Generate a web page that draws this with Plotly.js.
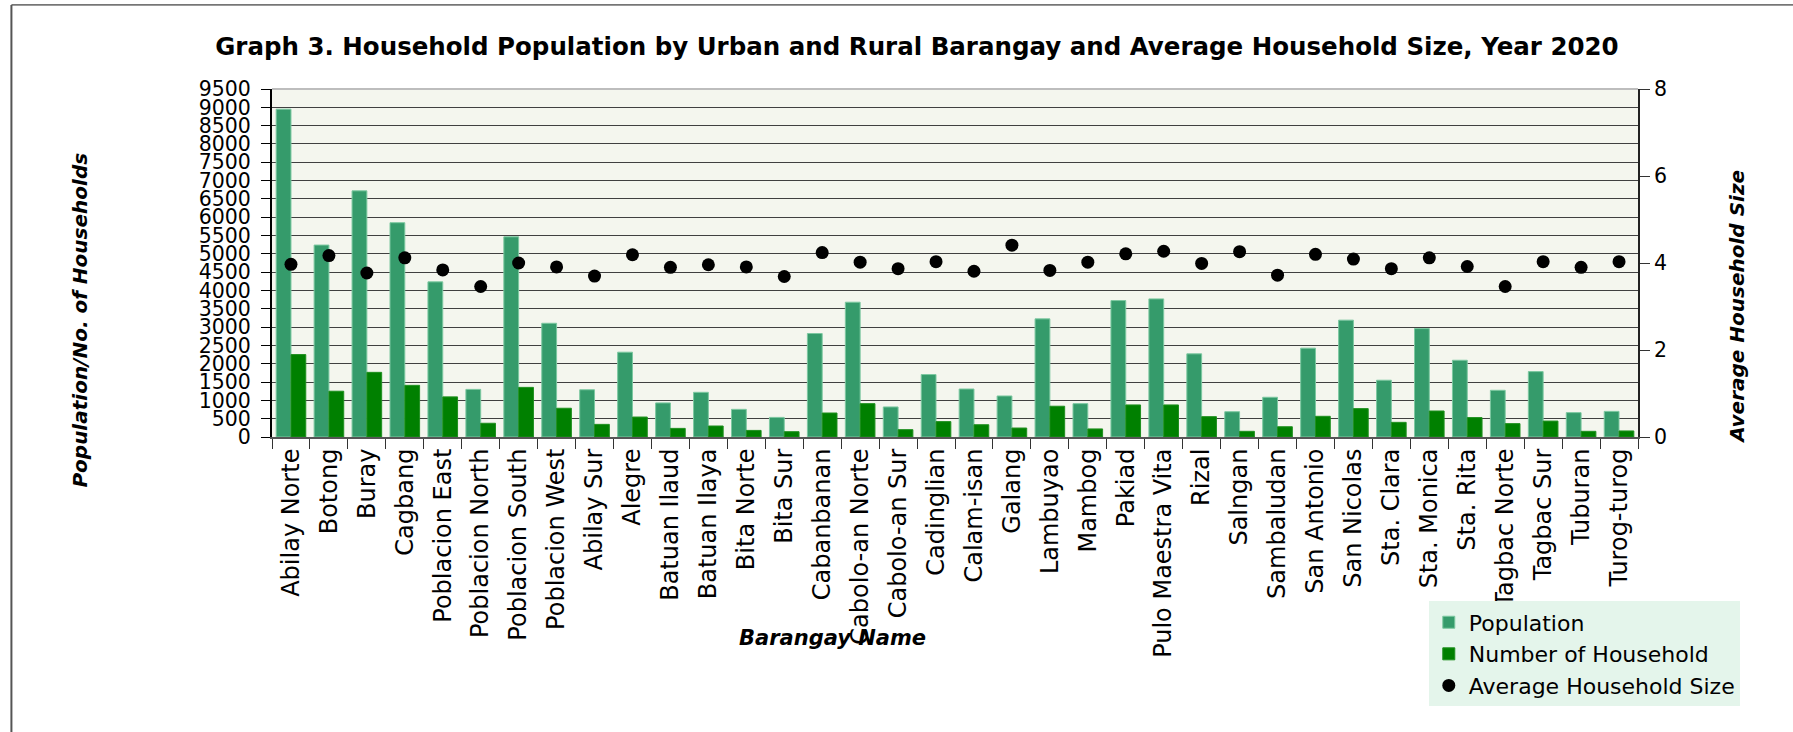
<!DOCTYPE html>
<html>
<head>
<meta charset="utf-8">
<script src="https://cdn.plot.ly/plotly-3.0.1.min.js"></script>
<style>html,body{margin:0;padding:0;background:#fff;}#chart{width:1793px;height:732px;}</style>
</head>
<body>
<div id="chart"></div>
<script>
const barangays = ["Abilay Norte","Botong","Buray","Cagbang","Poblacion East","Poblacion North","Poblacion South","Poblacion West","Abilay Sur","Alegre","Batuan Ilaud","Batuan Ilaya","Bita Norte","Bita Sur","Cabanbanan","Cabolo-an Norte","Cabolo-an Sur","Cadinglian","Calam-isan","Galang","Lambuyao","Mambog","Pakiad","Pulo Maestra Vita","Rizal","Salngan","Sambaludan","San Antonio","San Nicolas","Sta. Clara","Sta. Monica","Sta. Rita","Tagbac Norte","Tagbac Sur","Tuburan","Turog-turog"];
const population = [8950,5240,6720,5850,4235,1300,5465,3105,1290,2315,930,1220,755,535,2825,3680,820,1705,1310,1120,3225,910,3725,3770,2270,690,1085,2425,3190,1550,2960,2095,1275,1785,665,700];
const households = [2250,1250,1765,1410,1095,375,1355,785,345,545,235,300,180,145,655,910,200,420,335,245,840,220,875,875,555,155,280,565,775,400,710,530,365,435,155,165];
const avgSize = [3.97,4.17,3.77,4.12,3.84,3.46,4.00,3.91,3.70,4.19,3.90,3.96,3.91,3.69,4.24,4.02,3.87,4.03,3.81,4.41,3.83,4.02,4.21,4.27,3.99,4.26,3.72,4.20,4.09,3.87,4.12,3.92,3.46,4.03,3.90,4.03];
const leftTicks = [0,500,1000,1500,2000,2500,3000,3500,4000,4500,5000,5500,6000,6500,7000,7500,8000,8500,9000,9500];
const rightTicks = [0,2,4,6,8];

const FONT = "DejaVu Sans";
const traces = [
  {type:"bar", name:"Population", x:barangays, y:population,
   marker:{color:"#359b6b", line:{color:"#7cc8a0", width:1}}},
  {type:"bar", name:"Number of Household", x:barangays, y:households,
   marker:{color:"#008000", line:{color:"#1f8f1f", width:1}}},
  {type:"scatter", mode:"markers", name:"Average Household Size", x:barangays, y:avgSize, yaxis:"y2",
   marker:{color:"#000", size:13}}
];

const W=1366.6, H=347.7, L=271.7, B=436.7;
const px = v => (v - L)/W;
const py = v => (B - v)/H;

const layout = {
  width:1793, height:732,
  margin:{l:272, r:155, t:89, b:295},
  paper_bgcolor:"#ffffff", plot_bgcolor:"#f4f6ee",
  font:{family:FONT, color:"#000"},
  barmode:"group", bargap:0.22, bargroupgap:0,
  showlegend:true,
  title:{text:"Graph 3. Household Population by Urban and Rural Barangay and Average Household Size, Year 2020",
         font:{family:FONT, size:24.5, weight:"bold", color:"#000"}, x:0.5114, xanchor:"center", y:1-46/732, yanchor:"middle"},
  xaxis:{type:"category", range:[-0.5, barangays.length-0.5], autorange:false, tickangle:-90,
         tickfont:{size:24, family:FONT}, ticks:"outside", tickson:"boundaries",
         ticklen:10, tickcolor:"#333", showline:true, linecolor:"#555", linewidth:2, showgrid:false, automargin:false},
  yaxis:{range:[0,9500], tickvals:leftTicks, ticks:"outside", ticklen:9, tickcolor:"#000", showline:true,
         linecolor:"#000", linewidth:2, gridcolor:"#404040", gridwidth:1, zeroline:false, ticklabelstandoff:6,
         tickfont:{size:20.5, family:FONT}, automargin:false},
  yaxis2:{range:[0,8], tickvals:rightTicks, overlaying:"y", side:"right", showgrid:false, zeroline:false,
          ticks:"outside", ticklen:10, tickcolor:"#333", showline:true, linecolor:"#222", linewidth:2,
          tickfont:{size:20.5, family:FONT}, automargin:false},
  legend:{x:px(1429), y:py(601), xanchor:"left", yanchor:"top", bgcolor:"#e4f5eb", borderwidth:0,
          font:{size:22, family:FONT}, traceorder:"normal", tracegroupgap:0},
  annotations:[
    {text:"<b><i>Population/No. of Households</i></b>", xref:"paper", yref:"paper", x:px(80), y:py(320),
     textangle:-90, showarrow:false, font:{size:20, family:FONT}, xanchor:"center", yanchor:"middle"},
    {text:"<b><i>Average Household Size</i></b>", xref:"paper", yref:"paper", x:px(1738), y:py(307),
     textangle:-90, showarrow:false, font:{size:20, family:FONT}, xanchor:"center", yanchor:"middle"},
    {text:"<b><i>Barangay Name</i></b>", xref:"paper", yref:"paper", x:px(832), y:py(638),
     showarrow:false, font:{size:21, family:FONT}, xanchor:"center", yanchor:"middle"}
  ],
  shapes:[
    {type:"line", xref:"paper", yref:"paper", x0:0, x1:1, y0:1, y1:1, line:{color:"#bdbdbd", width:2}},
    {type:"line", xref:"paper", yref:"paper", x0:px(11), x1:px(1800), y0:py(5), y1:py(5), line:{color:"#111", width:1}},
    {type:"line", xref:"paper", yref:"paper", x0:px(11), x1:px(11), y0:py(5), y1:py(740), line:{color:"#555", width:2}}
  ]
};

Plotly.newPlot("chart", traces, layout, {displayModeBar:false, staticPlot:true});
</script>
</body>
</html>
